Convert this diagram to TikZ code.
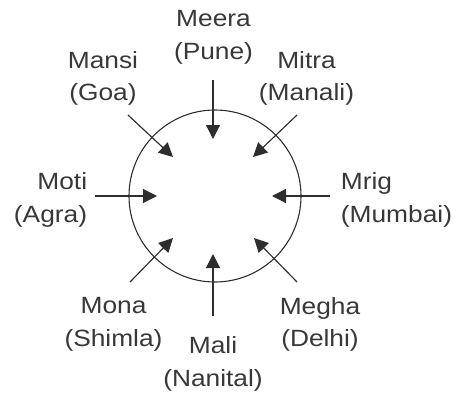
\documentclass[tikz,border=0pt]{standalone}
\usepackage{fontspec}
\setmainfont{Liberation Sans}[FakeStretch=1.12]
\usetikzlibrary{arrows.meta}
\definecolor{txt}{HTML}{383838}
\definecolor{ln}{HTML}{2E2E2E}
\begin{document}
\begin{tikzpicture}[x=1pt,y=-1pt,
  lbl/.style={inner sep=0pt,align=center,text=txt,font=\fontsize{23.5}{32.5}\selectfont},
  arr/.style={draw=ln,line width=1.15pt,-{Triangle[length=14pt,width=14pt]}}]
\useasboundingbox (0,0) rectangle (457,396);
\node[draw=ln,line width=1.1pt,circle,minimum size=172pt,inner sep=0pt] (circ) at (215,196) {};
% labels
\node[lbl,anchor=north] (meera) at (213.5,10.5) {Meera\\(Pune)};
\node[lbl,anchor=north] (mansi) at (103,51.2) {Mansi\\(Goa)};
\node[lbl,anchor=north] (mitra) at (306.5,51.2) {Mitra\\(Manali)};
\node[lbl,anchor=north east,align=right] (moti) at (87.3,172.5) {Moti\\(Agra)};
\node[lbl,anchor=north west,align=left] (mrig) at (340.7,172.5) {Mrig\\(Mumbai)};
\node[lbl,anchor=north] (mona) at (113.5,297.2) {Mona\\(Shimla)};
\node[lbl,anchor=north] (megha) at (320,297.2) {Megha\\(Delhi)};
\node[lbl,anchor=north] (mali) at (213,336.5) {Mali\\(Nanital)};
% arrow ends
\coordinate (sT) at (213,80);   \coordinate (tT) at (213,139);
\coordinate (sB) at (213,316);  \coordinate (tB) at (213,254);
\coordinate (sL) at (95,196);   \coordinate (tL) at (157,196);
\coordinate (sR) at (330,196);  \coordinate (tR) at (272,196);
\coordinate (sUL) at (128,115); \coordinate (tUL) at (173,157);
\coordinate (sUR) at (297,115); \coordinate (tUR) at (253,157);
\coordinate (sLL) at (130,282); \coordinate (tLL) at (173,238);
\coordinate (sLR) at (297,282); \coordinate (tLR) at (254,238);
\draw[arr] (sT) -- (tT);
\draw[arr] (sB) -- (tB);
\draw[arr] (sL) -- (tL);
\draw[arr] (sR) -- (tR);
\draw[arr] (sUL) -- (tUL);
\draw[arr] (sUR) -- (tUR);
\draw[arr] (sLL) -- (tLL);
\draw[arr] (sLR) -- (tLR);
\end{tikzpicture}
\end{document}
